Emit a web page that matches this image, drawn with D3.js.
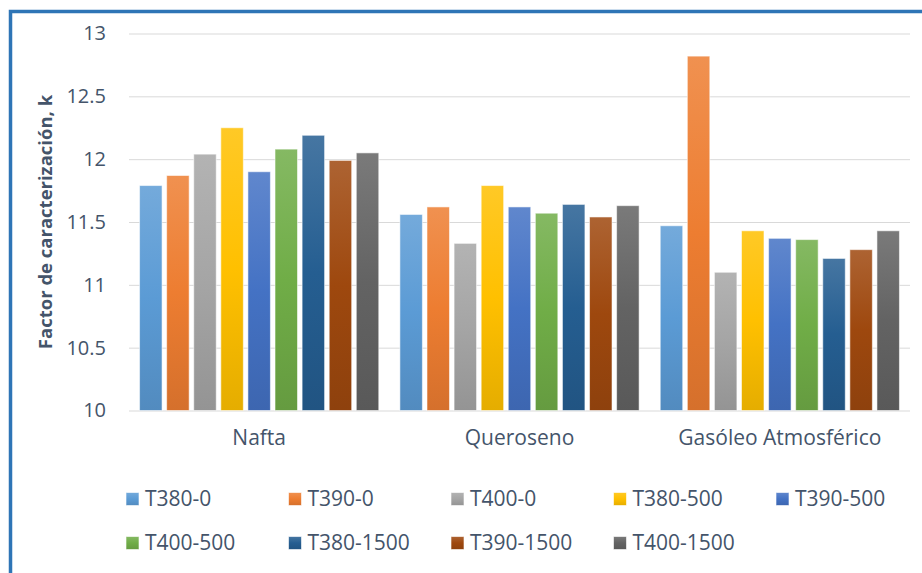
<!DOCTYPE html>
<html>
<head>
<meta charset="utf-8">
<script src="https://cdn.jsdelivr.net/npm/d3@7"></script>
<style>
  html, body { margin: 0; padding: 0; background: #fff; }
  svg { display: block; font-family: "Open Sans", Lato, sans-serif; }
</style>
</head>
<body>
<svg id="chart" width="922" height="573"></svg>
<script>
// Fuel cuts and operating conditions
const categories = ["Nafta", "Queroseno", "Gasóleo Atmosférico"];
const seriesNames = ["T380-0", "T390-0", "T400-0", "T380-500", "T390-500",
                     "T400-500", "T380-1500", "T390-1500", "T400-1500"];
const seriesColors = ["#5B9BD5", "#ED7D31", "#A5A5A5", "#FFC000", "#4472C4",
                      "#70AD47", "#255E91", "#9E480E", "#636363"];

// Characterization factor k, one array per series (Nafta, Queroseno, Gasóleo)
const T380_0    = [11.79, 11.56, 11.47];
const T390_0    = [11.87, 11.62, 12.82];
const T400_0    = [12.04, 11.33, 11.10];
const T380_500  = [12.25, 11.79, 11.43];
const T390_500  = [11.90, 11.62, 11.37];
const T400_500  = [12.08, 11.57, 11.36];
const T380_1500 = [12.19, 11.64, 11.21];
const T390_1500 = [11.99, 11.54, 11.28];
const T400_1500 = [12.05, 11.63, 11.43];
const seriesValues = [T380_0, T390_0, T400_0, T380_500, T390_500,
                      T400_500, T380_1500, T390_1500, T400_1500];

const yTicks = [10, 10.5, 11, 11.5, 12, 12.5, 13];

const svg = d3.select("#chart");
const textColor = "#44546A";
const font = "'Open Sans', Lato, sans-serif";

// Outer frame (left and top edges show)
svg.append("rect")
  .attr("x", 10.5).attr("y", 11.5)
  .attr("width", 940).attr("height", 600)
  .attr("fill", "none")
  .attr("stroke", "#2E75B6")
  .attr("stroke-width", 3.5);

const plot = { left: 129, right: 910, top: 33.5, bottom: 410.5 };

const y = d3.scaleLinear().domain([10, 13]).range([plot.bottom, plot.top]);
const x0 = d3.scaleBand().domain(categories).range([plot.left, plot.right]).padding(0);
const x1 = d3.scaleBand().domain(seriesNames).range([0, x0.bandwidth()])
  .paddingInner(0.17).paddingOuter(0.39);

// Vertical gradients for each series
const defs = svg.append("defs");
seriesColors.forEach((c, i) => {
  const g = defs.append("linearGradient")
    .attr("id", "grad" + i)
    .attr("x1", 0).attr("y1", 0).attr("x2", 0).attr("y2", 1);
  const light = d3.interpolateRgb(c, "#ffffff")(0.15);
  const dark = d3.color(c).darker(0.3).formatHex();
  g.append("stop").attr("offset", "0%").attr("stop-color", light);
  g.append("stop").attr("offset", "50%").attr("stop-color", c);
  g.append("stop").attr("offset", "100%").attr("stop-color", dark);
});

// Gridlines and value ticks
const yAxis = d3.axisLeft(y).tickValues(yTicks).tickSize(-(plot.right - plot.left))
  .tickPadding(23).tickFormat(d => String(d));
const ga = svg.append("g").attr("transform", `translate(${plot.left},0)`).call(yAxis);
ga.select(".domain").remove();
ga.selectAll(".tick line").attr("stroke", "#D9D9D9").attr("stroke-width", 1);
ga.selectAll(".tick text")
  .attr("fill", textColor)
  .style("font-size", "20px")
  .style("font-family", font);

// Bars
const groups = svg.append("g").selectAll("g")
  .data(categories)
  .join("g")
  .attr("transform", d => `translate(${x0(d)},0)`);

groups.selectAll("rect")
  .data((cat, ci) => seriesNames.map((s, si) => ({ s, si, v: seriesValues[si][ci] })))
  .join("rect")
  .attr("x", d => x1(d.s))
  .attr("width", x1.bandwidth())
  .attr("y", d => y(d.v))
  .attr("height", d => y(10) - y(d.v))
  .attr("fill", d => `url(#grad${d.si})`)
  .attr("stroke", "rgba(255,255,255,0.55)")
  .attr("stroke-width", 1);

// Category labels
const xAxis = d3.axisBottom(x0).tickSize(0).tickPadding(20);
const gx = svg.append("g").attr("transform", `translate(0,${plot.bottom})`).call(xAxis);
gx.select(".domain").remove();
gx.selectAll(".tick text")
  .attr("fill", textColor)
  .style("font-size", "21px")
  .style("font-family", font);

// Y axis title
svg.append("text")
  .attr("transform", `translate(52,222) rotate(-90)`)
  .attr("text-anchor", "middle")
  .attr("fill", textColor)
  .style("font-size", "18.5px")
  .style("font-weight", "bold")
  .style("font-family", font)
  .text("Factor de caracterización, k");

// Legend
const legend = svg.append("g");
const legendX = d3.scalePoint().domain(d3.range(5)).range([126, 776]);
const legendRows = [499, 543];
seriesNames.forEach((s, i) => {
  const col = i % 5, row = Math.floor(i / 5);
  const item = legend.append("g")
    .attr("transform", `translate(${legendX(col)},${legendRows[row]})`);
  item.append("rect")
    .attr("x", 0).attr("y", -6.5).attr("width", 13).attr("height", 13)
    .attr("fill", `url(#grad${i})`)
    .attr("stroke", "rgba(255,255,255,0.6)");
  item.append("text")
    .attr("x", 19).attr("y", 0).attr("dy", "0.35em")
    .attr("fill", textColor)
    .style("font-size", "21px")
    .style("font-family", font)
    .text(s);
});
</script>
</body>
</html>
